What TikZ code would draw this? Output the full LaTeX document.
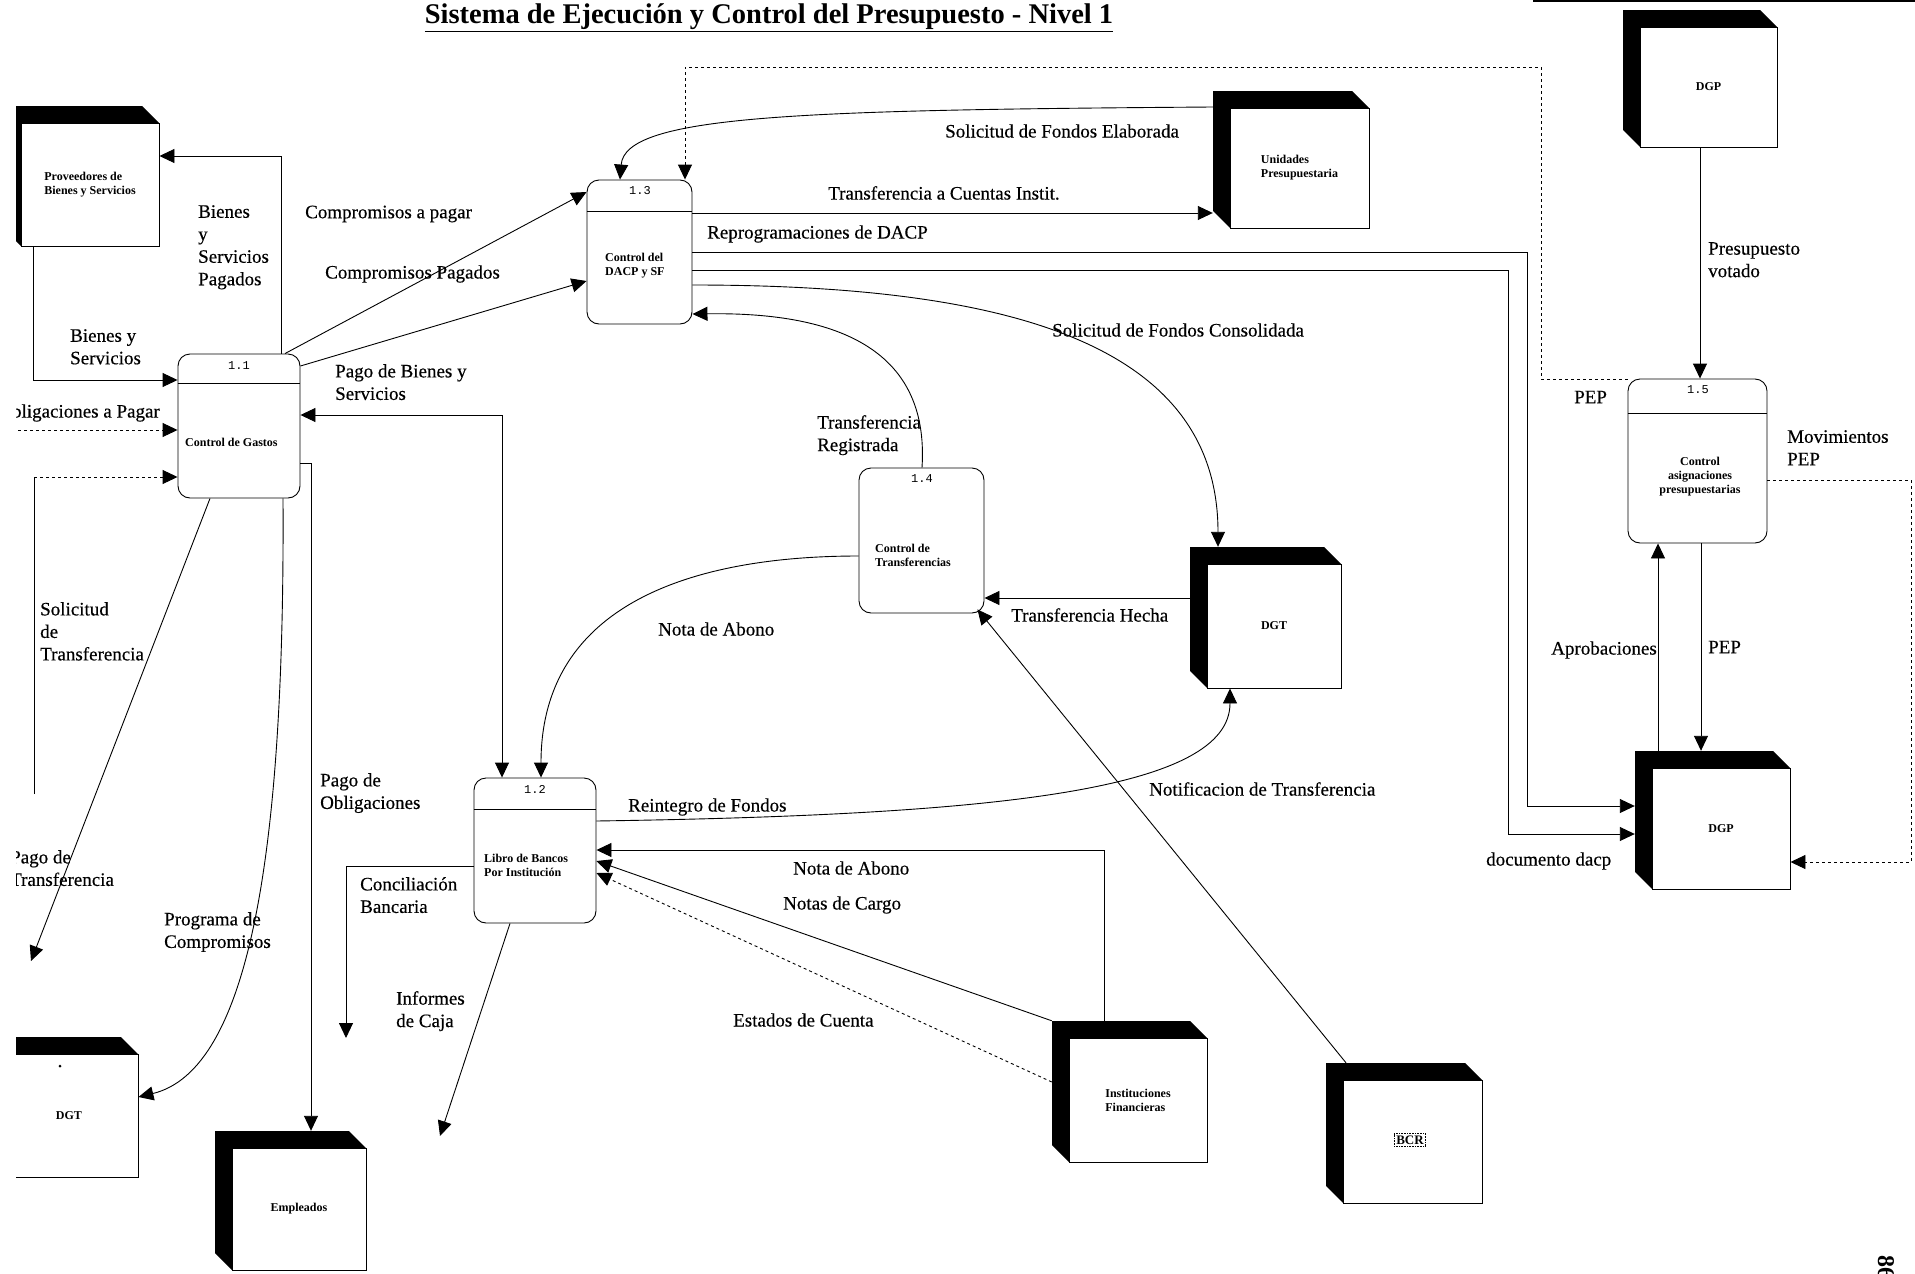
\documentclass[tikz,border=0pt]{standalone}
\usepackage{fontspec}
\setmainfont{Liberation Serif}
\newfontfamily\lblfont[UprightFeatures={FakeBold=0.35}]{Liberation Serif}
\newfontfamily\numfont{Liberation Mono}
\usetikzlibrary{arrows.meta,calc}

\tikzset{
  tip/.tip={Triangle[length=15pt,width=14pt]},
  flow/.style={draw, line width=0.9pt, -tip},
  biflow/.style={draw, line width=0.9pt, tip-tip},
  lbl/.style={inner sep=0pt, font=\lblfont\fontsize{19}{22.5}\selectfont, align=left},
  entface/.style={draw, line width=0.9pt, fill=white, inner sep=0pt, align=left,
    font=\bfseries\fontsize{12}{14}\selectfont},
  entback/.style={inner sep=0pt},
  procbox/.style={draw, line width=0.9pt, rounded corners=12pt, inner sep=0pt},
  pnum/.style={font=\numfont\fontsize{12}{12}\selectfont, inner sep=0pt},
  ptext/.style={font=\bfseries\fontsize{12}{14}\selectfont, align=left, inner sep=0pt},
}

% external entity: name, x1, y1, x2, y2 of the front face, text
\newcommand{\extbox}[6]{%
  \fill (#2-17,#3-17) -- (#4-17,#3-17) -- (#4,#3) -- (#2,#3) -- (#2,#5) -- (#2-17,#5-17) -- cycle;
  \node[entface, minimum width={(#4-#2)*1pt}, minimum height={(#5-#3)*1pt}]
    (#1) at ({(#2+#4)/2},{(#3+#5)/2}) {#6};
  \node[entback, minimum width={(#4-#2)*1pt}, minimum height={(#5-#3)*1pt}]
    (#1bk) at ({(#2+#4)/2-17},{(#3+#5)/2-17}) {};
}

\begin{document}
\begin{tikzpicture}[x=1pt,y=-1pt]
\useasboundingbox (0,0) rectangle (1915,1274);
\fill[white] (0,0) rectangle (1915,1274);
\begin{scope}
\clip (16,0) rectangle (1915,1274);

% title
\node[font=\bfseries\fontsize{28.5}{30}\selectfont, inner sep=0pt] (title) at (769,18)
  {\underline{Sistema de Ejecución y Control del Presupuesto - Nivel 1}};

% edge of the sheet, top right
\draw[line width=2.5pt] (1533,1) -- (1915,1);

% external entities
\extbox{prov}{21}{123}{159}{246}{Proveedores de\\Bienes y Servicios}
\extbox{unid}{1230}{108}{1369}{228}{Unidades\\Presupuestaria}
\extbox{dgpup}{1640}{27}{1777}{147}{DGP}
\extbox{dgplow}{1652}{768}{1790}{889}{DGP}
\extbox{dgtmid}{1207}{564}{1341}{688}{DGT}
\extbox{inst}{1069}{1038}{1207}{1162}{Instituciones\\Financieras}
\extbox{bcr}{1343}{1080}{1482}{1203}{}
\extbox{dgtlow}{0}{1054}{138}{1177}{DGT}
\extbox{empl}{232}{1148}{366}{1270}{Empleados}
\node[draw, densely dotted, line width=0.6pt, inner sep=2pt,
  font=\bfseries\fontsize{13}{13}\selectfont] (bcrlogo) at (1410,1140) {BCR};
\fill (60,1066) circle (1.5);

% processes
\node[procbox, minimum width=122pt, minimum height=144pt] (p11) at (239,426) {};
\draw[line width=0.9pt] (p11.west |- 0,383) -- (p11.east |- 0,383);
\node[pnum] (p11n) at (239,366) {1.1};
\node[ptext, anchor=west] (p11t) at (185,442) {Control de Gastos};

\node[procbox, minimum width=105pt, minimum height=144pt] (p13) at (639.5,252) {};
\draw[line width=0.9pt] (p13.west |- 0,211) -- (p13.east |- 0,211);
\node[pnum] (p13n) at (640,191) {1.3};
\node[ptext, anchor=west] (p13t) at (605,266) {Control del\\DACP y SF};

\node[procbox, minimum width=125pt, minimum height=145pt] (p14) at (921.5,540.5) {};
\node[pnum] (p14n) at (922,479) {1.4};
\node[ptext, anchor=west] (p14t) at (875,555) {Control de\\Transferencias};

\node[procbox, minimum width=122pt, minimum height=145pt] (p12) at (535,850.5) {};
\draw[line width=0.9pt] (p12.west |- 0,809) -- (p12.east |- 0,809);
\node[pnum] (p12n) at (535,789) {1.2};
\node[ptext, anchor=west] (p12t) at (484,865) {Libro de Bancos\\Por Institución};

\node[procbox, minimum width=139pt, minimum height=164pt] (p15) at (1697.5,461) {};
\draw[line width=0.9pt] (p15.west |- 0,413) -- (p15.east |- 0,413);
\node[pnum] (p15n) at (1698,390) {1.5};
\node[ptext, align=center] (p15t) at (1700,477) {Control\\asignaciones\\presupuestarias};

% flows around 1.1
\draw[flow] (p11.north -| 281,0) |- (prov.east |- 0,156);
\draw[flow] (prov.south -| 33,0) |- (p11.west |- 0,380);
\coordinate (oblig) at (0,430);
\draw[flow, dashed] (oblig) -- (p11.west |- oblig);
\coordinate (soltr) at (34,794);
\coordinate (soltrk) at (34,477);
\draw[line width=0.9pt] (soltr) -- (soltrk);
\draw[flow, dashed] (soltrk) -- (p11.west |- soltrk);
\coordinate (pagotr) at (31,961);
\draw[flow] (p11.south -| 210,0) -- (pagotr);
\draw[flow] (p11.south -| 283,0) .. controls (285,850) and (250,1070) .. (dgtlow.east |- 0,1097);
\draw[flow] (p11.east |- 0,463) -| (emplbk.north -| 311,0);
\draw[biflow] (p11.east |- 0,415) -| (p12.north -| 502,0);
\draw[flow] (p11.north -| 285,0) -- (p13.west |- 0,192);
\draw[flow] (p11.east |- 0,366) -- (p13.west |- 0,281);

% flows around 1.3
\draw[flow] (unidbk.west |- 0,107) .. controls (800,110) and (625,115) .. (p13.north -| 620,0);
\draw[flow, dashed] (p15.west |- 0,379) -| (1541,67) -| (p13.north -| 685,0);
\draw[flow] (p13.east |- 0,213) -- (unidbk.west |- 0,213);
\draw[flow] (p13.east |- 0,252) -| (1527,806) -- (dgplowbk.west |- 0,806);
\draw[flow] (p13.east |- 0,270) -| (1508,834) -- (dgplowbk.west |- 0,834);
\draw[flow] (p13.east |- 0,285) .. controls (1000,285) and (1218,340) .. (dgtmidbk.north -| 1218,0);
\draw[flow] (p14.north -| 922,0) .. controls (930,345) and (830,312) .. (p13.east |- 0,314);

% flows around 1.4 and 1.2
\draw[flow] (p14.west |- 0,556) .. controls (700,556) and (541,600) .. (p12.north -| 541,0);
\draw[flow] (dgtmidbk.west |- 0,598) -- (p14.east |- 0,598);
\draw[flow] (bcrbk.north -| 1346,0) -- ($(p14.south east)+(-7,-4)$);
\draw[flow] (p12.east |- 0,821) .. controls (1000,815) and (1230,790) .. (dgtmid.south -| 1230,0);
\draw[flow] (instbk.north -| 1104,0) |- (p12.east |- 0,850);
\draw[flow] (instbk.north west) -- (p12.east |- 0,861);
\draw[flow, dashed] (instbk.west |- 0,1082) -- (p12.east |- 0,873);
\coordinate (concil) at (346,1038);
\draw[flow] (p12.west |- 0,866) -| (concil);
\coordinate (infcaja) at (440,1136);
\draw[flow] (p12.south -| 510,0) -- (infcaja);

% flows around 1.5
\draw[flow] (dgpup.south -| 1700,0) -- (p15.north -| 1700,0);
\draw[flow] (p15.south -| 1701,0) -- (dgplowbk.north -| 1701,0);
\draw[flow] (dgplowbk.north -| 1658,0) -- (p15.south -| 1658,0);
\draw[flow, dashed] (p15.east |- 0,480) -| (1911,862) -- (dgplow.east |- 0,862);

% flow labels
\node[lbl, anchor=north west] (l1) at (198,205) {Bienes\\y\\Servicios\\Pagados};
\node[lbl, anchor=north west] (l2) at (70,329) {Bienes y\\Servicios};
\node[lbl, anchor=east] (l3) at (160,413) {Obligaciones a Pagar};
\node[lbl, anchor=north west] (l4) at (40,602) {Solicitud\\de\\Transferencia};
\node[lbl, anchor=north west] (l5) at (10,850) {Pago de\\Transferencia};
\node[lbl, anchor=north west] (l6) at (164,912) {Programa de\\Compromisos};
\node[lbl, anchor=north west] (l7) at (320,773) {Pago de\\Obligaciones};
\node[lbl, anchor=north west] (l8) at (335,364) {Pago de Bienes y\\Servicios};
\node[lbl, anchor=west] (l9) at (305,214) {Compromisos a pagar};
\node[lbl, anchor=west] (l10) at (325,274) {Compromisos Pagados};
\node[lbl, anchor=west] (l11) at (945,131) {Solicitud de Fondos Elaborada};
\node[lbl, anchor=west] (l12) at (828,193) {Transferencia a Cuentas Instit.};
\node[lbl, anchor=west] (l13) at (707,234) {Reprogramaciones de DACP};
\node[lbl, anchor=west] (l14) at (1052,330) {Solicitud de Fondos Consolidada};
\node[lbl, anchor=west] (l15) at (1574,397) {PEP};
\node[lbl, anchor=north west] (l16) at (1708,242) {Presupuesto\\votado};
\node[lbl, anchor=north west] (l17) at (1787,430) {Movimientos\\PEP};
\node[lbl, anchor=north west] (l18) at (817,415) {Transferencia\\Registrada};
\node[lbl, anchor=west] (l19) at (658,629) {Nota de Abono};
\node[lbl, anchor=west] (l20) at (1011,615) {Transferencia Hecha};
\node[lbl, anchor=east] (l21) at (1657,650) {Aprobaciones};
\node[lbl, anchor=west] (l22) at (1708,647) {PEP};
\node[lbl, anchor=west] (l23) at (1149,789) {Notificacion de Transferencia};
\node[lbl, anchor=west] (l24) at (628,807) {Reintegro de Fondos};
\node[lbl, anchor=west] (l25) at (1486,861) {documento dacp};
\node[lbl, anchor=west] (l26) at (793,868) {Nota de Abono};
\node[lbl, anchor=west] (l27) at (783,905) {Notas de Cargo};
\node[lbl, anchor=north west] (l28) at (360,877) {Conciliación\\Bancaria};
\node[lbl, anchor=north west] (l29) at (396,991) {Informes\\de Caja};
\node[lbl, anchor=west] (l30) at (733,1020) {Estados de Cuenta};

% page number at the sheet corner
\node[rotate=-90, anchor=west, inner sep=0pt, font=\bfseries\fontsize{24}{24}\selectfont]
  (pageno) at (1886,1255) {86};
\end{scope}
\end{tikzpicture}
\end{document}
